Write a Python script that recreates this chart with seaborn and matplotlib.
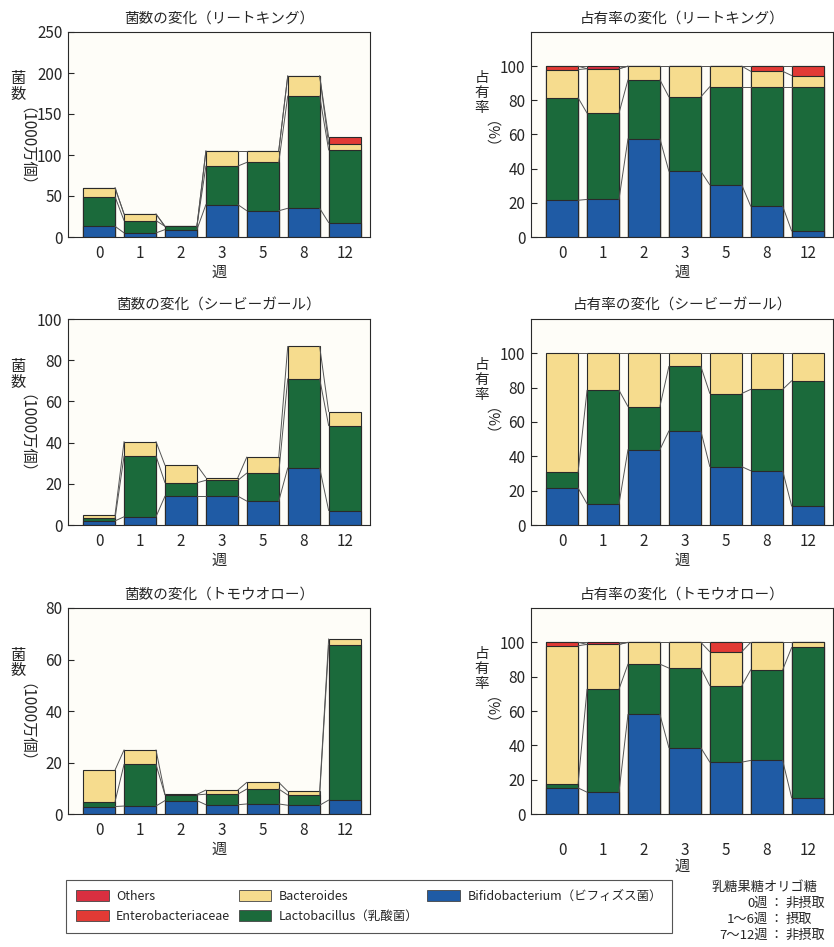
import numpy as np
import pandas as pd
import matplotlib
matplotlib.use('Agg')
import matplotlib.pyplot as plt
import seaborn as sns
from matplotlib.patches import Patch

weeks = ['0', '1', '2', '3', '5', '8', '12']
series_names = ['Bifidobacterium（ビフィズス菌）', 'Lactobacillus（乳酸菌）', 'Bacteroides',
                'Enterobacteriaceae', 'Others']
colors = ['#1f5ba5', '#1b6a3b', '#f6dc8e', '#e23a35', '#d92f40']

# リートキング  counts (1000万個) / share (%)
rk_cnt_bifido = [13, 5, 9, 39.5, 32, 35, 17.5]
rk_cnt_lacto = [36, 15, 4, 47, 59, 137, 88.5]
rk_cnt_bact = [11, 8, 0, 18.5, 14, 24.5, 7]
rk_cnt_entero = [0, 0, 0, 0, 0, 0, 8.5]
rk_cnt_others = [0, 0, 0, 0, 0, 0, 0]

rk_pct_bifido = [21.5, 22, 57.5, 38.5, 30.5, 18, 3.5]
rk_pct_lacto = [60, 50.5, 34.5, 43.5, 57.5, 70, 84.5]
rk_pct_bact = [16.5, 26, 8, 18, 12, 9, 6.5]
rk_pct_entero = [2, 0, 0, 0, 0, 3, 5.5]
rk_pct_others = [0, 1.5, 0, 0, 0, 0, 0]

# シービーガール
cb_cnt_bifido = [2, 4, 14, 14, 11.6, 27.7, 7]
cb_cnt_lacto = [1.2, 29.5, 6.5, 7.7, 13.6, 43.3, 41.2]
cb_cnt_bact = [1.8, 7, 8.5, 1.3, 7.8, 15.7, 6.8]

cb_pct_bifido = [21.6, 12.3, 43.9, 54.8, 34, 31.6, 11]
cb_pct_lacto = [9, 66.2, 25.1, 37.6, 42.6, 47.4, 73]
cb_pct_bact = [69.4, 21.5, 31, 7.6, 23.4, 21, 16]

# トモウオロー
tw_cnt_bifido = [2.9, 3.1, 5.2, 3.6, 3.9, 3.4, 5.4]
tw_cnt_lacto = [1.9, 16.2, 2.2, 4.1, 5.8, 4.0, 60.1]
tw_cnt_bact = [12.3, 5.6, 0.2, 1.6, 2.6, 1.4, 2.5]

tw_pct_bifido = [15.2, 12.7, 58, 38.6, 30.2, 31.2, 9.4]
tw_pct_lacto = [2.3, 60, 29.3, 46.4, 44.5, 52.8, 87.6]
tw_pct_bact = [80.5, 26.1, 12.7, 15, 19.8, 16, 3]
tw_pct_entero = [2, 0, 0, 0, 5.5, 0, 0]
tw_pct_others = [0, 1.2, 0, 0, 0, 0, 0]

zeros = [0] * 7

sns.set_theme(style='ticks')
plt.rcParams['font.family'] = ['Noto Sans CJK JP', 'DejaVu Sans']

W, H = 834, 947
fig = plt.figure(figsize=(W / 100, H / 100), dpi=100)

def px_axes(x0, y0, x1, y1):
    return fig.add_axes([x0 / W, 1 - y1 / H, (x1 - x0) / W, (y1 - y0) / H])

BW = 0.78

def draw_panel(ax, layers, ymax, yticks, title):
    df = pd.DataFrame(np.array(layers).T, columns=series_names)
    df['week'] = weeks
    cum = df[series_names].cumsum(axis=1)
    # draw from top layer down so lower segments overdraw
    for k in range(len(series_names) - 1, -1, -1):
        if df[series_names[k]].sum() == 0:
            continue
        sns.barplot(x=df['week'], y=cum[series_names[k]], color=colors[k], saturation=1,
                    width=BW, edgecolor='#2a2a2a', linewidth=0.8, errorbar=None,
                    order=weeks, ax=ax)
    # series lines between adjacent bars
    for k in range(len(series_names)):
        if df[series_names[k]].sum() == 0:
            continue
        lv = cum[series_names[k]].values
        for i in range(len(weeks) - 1):
            ax.plot([i + BW / 2, i + 1 - BW / 2], [lv[i], lv[i + 1]],
                    color='#555555', lw=0.7, zorder=1)
    ax.set_xlim(-0.76, 6.62)
    ax.set_ylim(0, ymax)
    ax.set_yticks(yticks)
    ax.set_facecolor('#fefdf8')
    ax.set_xlabel('週', fontsize=11, labelpad=1)
    ax.set_ylabel('')
    ax.set_title(title, fontsize=10.5, pad=7)
    ax.tick_params(axis='x', length=0, pad=6, labelsize=11)
    ax.tick_params(axis='y', direction='in', length=4, width=0.8, pad=4, labelsize=11)
    for s in ax.spines.values():
        s.set_visible(True)
        s.set_color('#2a2a2a')
        s.set_linewidth(0.8)

rows = [(32, 237), (319, 525), (608, 814)]
left_x = (68, 370)
right_x = (531, 833)

panels = [
    ('リートキング', [rk_cnt_bifido, rk_cnt_lacto, rk_cnt_bact, rk_cnt_entero, rk_cnt_others], 250,
     [0, 50, 100, 150, 200, 250],
     [rk_pct_bifido, rk_pct_lacto, rk_pct_bact, rk_pct_entero, rk_pct_others]),
    ('シービーガール', [cb_cnt_bifido, cb_cnt_lacto, cb_cnt_bact, zeros, zeros], 100,
     [0, 20, 40, 60, 80, 100],
     [cb_pct_bifido, cb_pct_lacto, cb_pct_bact, zeros, zeros]),
    ('トモウオロー', [tw_cnt_bifido, tw_cnt_lacto, tw_cnt_bact, zeros, zeros], 80,
     [0, 20, 40, 60, 80],
     [tw_pct_bifido, tw_pct_lacto, tw_pct_bact, tw_pct_entero, tw_pct_others]),
]

for r, (name, cnt, ymax, yt, pct) in enumerate(panels):
    top, bot = rows[r]
    axl = px_axes(left_x[0], top, left_x[1], bot)
    draw_panel(axl, cnt, ymax, yt, f'菌数の変化（{name}）')
    axr = px_axes(right_x[0], top, right_x[1], bot)
    draw_panel(axr, pct, 120, [0, 20, 40, 60, 80, 100], f'占有率の変化（{name}）')
    if r == 2:
        axr.tick_params(axis='x', pad=20)
        axr.xaxis.labelpad = -1
    # vertical y labels
    for j, ch in enumerate('菌数'):
        fig.text(18 / W, 1 - (top + 47 + 16 * j) / H, ch, fontsize=11, ha='center', va='center')
    fig.text(18 / W, 1 - (top + 122) / H, '（1000万個）', fontsize=11, ha='center',
             va='center', rotation=270)
    for j, ch in enumerate('占有率'):
        fig.text(482 / W, 1 - (top + 46 + 15 * j) / H, ch, fontsize=10.5, ha='center',
                 va='center')
    fig.text(482 / W, 1 - (top + 110) / H, '（%）', fontsize=10.5, ha='center',
             va='center', rotation=270)

legend_order = [4, 3, 2, 1, 0]
handles = [Patch(facecolor=colors[k], edgecolor='#444444', linewidth=0.6) for k in legend_order]
labels = [series_names[k] for k in legend_order]
leg = fig.legend(handles, labels, loc='upper left', bbox_to_anchor=(66 / W, 1 - 880 / H),
                 ncol=3, fontsize=9, frameon=True, fancybox=False, handlelength=2.6,
                 handleheight=1.0, columnspacing=0.7, labelspacing=0.55, borderpad=0.8,
                 handletextpad=0.6, borderaxespad=0)
leg.get_frame().set_edgecolor('#2a2a2a')
leg.get_frame().set_linewidth(0.8)

fig.text(712 / W, 1 - 887 / H, '乳糖果糖オリゴ糖', fontsize=9.5, ha='left', va='center')
for j, (a, b) in enumerate([('0週', '非摂取'), ('1〜6週', '摂取'), ('7〜12週', '非摂取')]):
    yy = 1 - (903 + 16 * j) / H
    fig.text(768 / W, yy, a, fontsize=9.5, ha='right', va='center')
    fig.text(776 / W, yy, '：', fontsize=9.5, ha='center', va='center')
    fig.text(786 / W, yy, b, fontsize=9.5, ha='left', va='center')

fig.savefig('out.png', dpi=100)
